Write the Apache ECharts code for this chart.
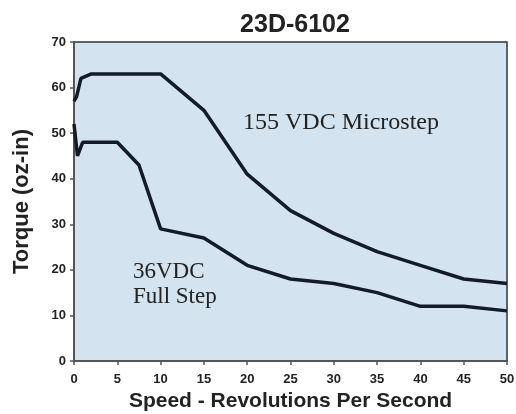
<!DOCTYPE html>
<html>
<head>
  <meta charset="utf-8">
  <title>23D-6102</title>
  <script src="https://cdn.jsdelivr.net/npm/echarts@6.0.0/dist/echarts.min.js"></script>
  <style>
    html, body { margin: 0; padding: 0; background: #fff; }
  </style>
</head>
<body>
  <div id="main" style="width:516px; height:414px;"></div>
  <script type="text/javascript">
    // speed (rev/s) and torque (oz-in)
    const microSpeed = [0, 0.3, 0.8, 2, 10, 15, 20, 25, 30, 35, 40, 45, 50];
    const microTorque = [57, 58, 62, 63, 63, 55, 41, 33, 28, 24, 21, 18, 17];
    const fullSpeed = [0, 0.4, 1, 5, 7.5, 10, 15, 20, 25, 30, 35, 40, 45, 50];
    const fullTorque = [52, 45, 48, 48, 43, 29, 27, 21, 18, 17, 15, 12, 12, 11];

    const pairs = (xs, ys) => xs.map((x, i) => [x, ys[i]]);

    const chart = echarts.init(document.getElementById('main'));
    const axisFont = { fontFamily: 'Liberation Sans', fontWeight: 'bold', color: '#222', fontSize: 13 };
    const nameFont = { fontFamily: 'Liberation Sans', fontWeight: 'bold', color: '#222', fontSize: 21 };
    const lineColor = '#141b28';

    const option = {
      animation: false,
      title: {
        text: '23D-6102',
        left: 290, top: 8, textAlign: 'center',
        textStyle: { fontFamily: 'Liberation Sans', fontWeight: 'bold', fontSize: 25, color: '#222' }
      },
      grid: {
        left: 74, right: 9, top: 42, bottom: 53,
        containLabel: false, outerBoundsMode: 'none',
        show: true, backgroundColor: '#d3e3ef', borderColor: '#333', borderWidth: 1.5
      },
      xAxis: {
        type: 'value', min: 0, max: 50, interval: 5,
        name: 'Speed - Revolutions Per Second',
        nameLocation: 'middle', nameGap: 30,
        nameTextStyle: nameFont,
        axisLine: { lineStyle: { color: '#555', width: 2 } },
        axisTick: { show: true, length: 4, lineStyle: { color: '#555', width: 1.5 } },
        axisLabel: Object.assign({ margin: 12 }, axisFont),
        splitLine: { show: false }
      },
      yAxis: {
        type: 'value', min: 0, max: 70, interval: 10,
        name: 'Torque (oz-in)',
        nameLocation: 'middle', nameGap: 41,
        nameTextStyle: Object.assign({}, nameFont, { fontSize: 22 }),
        axisLine: { show: true, lineStyle: { color: '#555', width: 2 } },
        axisTick: { show: true, length: 4, lineStyle: { color: '#555', width: 1.5 } },
        axisLabel: Object.assign({ margin: 8 }, axisFont),
        splitLine: { show: false }
      },
      graphic: [
        { type: 'text', left: 243, top: 111,
          style: { text: '155 VDC Microstep', font: '24px "Liberation Serif"', fill: '#222' } },
        { type: 'text', left: 133, top: 259,
          style: { text: '36VDC\nFull Step', font: '23px "Liberation Serif"', fill: '#222', lineHeight: 25 } }
      ],
      series: [
        {
          name: '155 VDC Microstep', type: 'line', data: pairs(microSpeed, microTorque),
          showSymbol: false, lineStyle: { color: lineColor, width: 3.5 }
        },
        {
          name: '36VDC Full Step', type: 'line', data: pairs(fullSpeed, fullTorque),
          showSymbol: false, lineStyle: { color: lineColor, width: 3.5 }
        }
      ]
    };

    chart.setOption(option);
  </script>
</body>
</html>
